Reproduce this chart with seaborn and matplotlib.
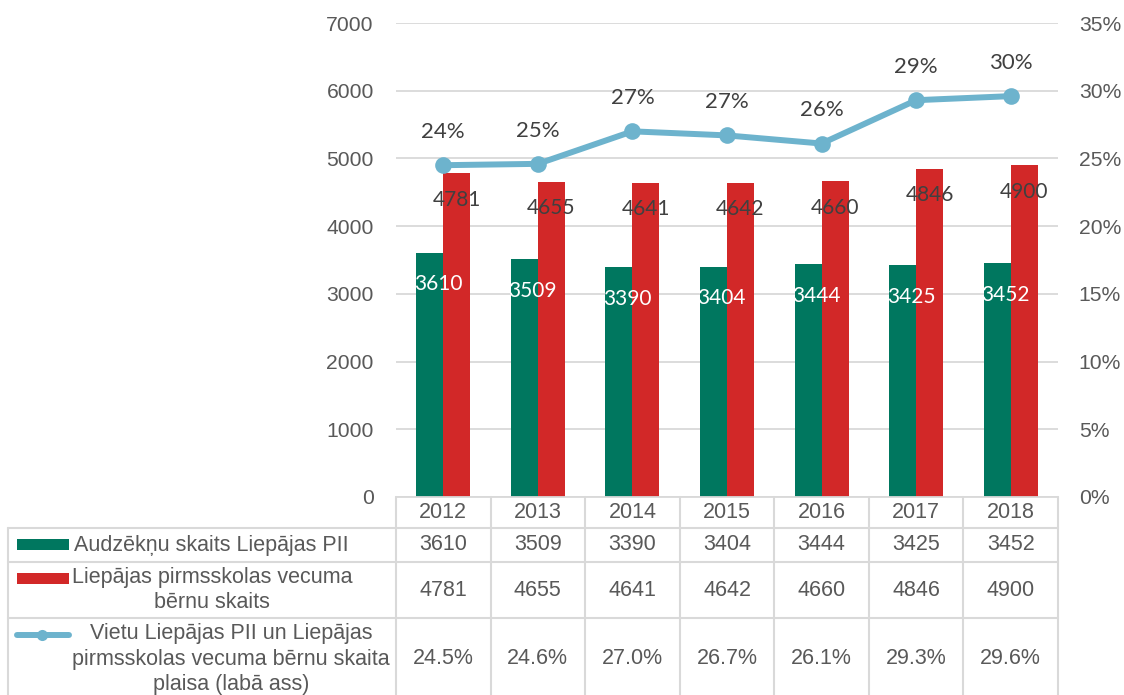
import numpy as np
import pandas as pd
import matplotlib.pyplot as plt
import seaborn as sns
from matplotlib.patches import Rectangle
from matplotlib.lines import Line2D

sns.set_theme(style="white")
plt.rcParams["font.family"] = ["Liberation Sans", "DejaVu Sans"]

# Data
years = ["2012", "2013", "2014", "2015", "2016", "2017", "2018"]
pupils = [3610, 3509, 3390, 3404, 3444, 3425, 3452]
children = [4781, 4655, 4641, 4642, 4660, 4846, 4900]
gap_pct = [24.5, 24.6, 27.0, 26.7, 26.1, 29.3, 29.6]

s1 = "Audzēkņu skaits Liepājas PII"
s2 = "Liepājas pirmsskolas vecuma\nbērnu skaits"
s3 = "Vietu Liepājas PII un Liepājas\npirmsskolas vecuma bērnu skaita\nplaisa (labā ass)"

green = "#00775F"
red = "#D22828"
blue = "#6DB3CD"
txt = "#595959"
grid = "#D9D9D9"

df = pd.DataFrame({
    "year": years * 2,
    "value": pupils + children,
    "series": [s1] * len(years) + [s2] * len(years),
})

W, H = 1124, 695
fig = plt.figure(figsize=(W / 100, H / 100), dpi=100)

# overlay for the data table (pixel coordinates)
tab = fig.add_axes([0, 0, 1, 1], zorder=0)
tab.set_xlim(0, W)
tab.set_ylim(H, 0)
tab.axis("off")

ax = fig.add_axes([396 / W, 1 - 497 / H, 662 / W, 474 / H], zorder=1)
ax.patch.set_alpha(0)
sns.barplot(data=df, x="year", y="value", hue="series", palette=[green, red],
            width=0.57, saturation=1, linewidth=0, ax=ax, legend=False)
ax.set_xlim(-0.5, len(years) - 0.5)
ax.set_ylim(0, 7000)
ax.set_yticks(range(0, 7001, 1000))
ax.yaxis.grid(True, color=grid, lw=1.3)
ax.set_axisbelow(True)
ax.set_xlabel("")
ax.set_ylabel("")
ax.set_xticks([])
for sp in ["top", "right", "left"]:
    ax.spines[sp].set_visible(False)
ax.spines["bottom"].set_color(grid)
ax.spines["bottom"].set_linewidth(1.3)
ax.tick_params(axis="y", labelsize=15.2, colors=txt, length=0, pad=16)

lab_font = ["Lato", "DejaVu Sans"]
bw = 0.285
for i in range(len(years)):
    ax.annotate(str(pupils[i]), (i - bw / 2, pupils[i]), xytext=(6, -23),
                textcoords="offset points", ha="center", va="center",
                fontsize=15, color="white", family=lab_font)
    ax.annotate(str(children[i]), (i + bw / 2, children[i]), xytext=(0, -19),
                textcoords="offset points", ha="center", va="center",
                fontsize=15, color="#404040", family=lab_font)

ax2 = ax.twinx()
sns.lineplot(x=np.arange(len(years)), y=gap_pct, ax=ax2, color=blue, lw=4.3,
             marker="o", markersize=12, markeredgewidth=0, zorder=5)
ax2.set_ylim(0, 35)
ax2.set_yticks(range(0, 36, 5))
ax2.set_yticklabels([f"{v}%" for v in range(0, 36, 5)])
ax2.tick_params(axis="y", labelsize=15.2, colors=txt, length=0, pad=15)
for sp in ax2.spines.values():
    sp.set_visible(False)
ax2.grid(False)
for i, v in enumerate(gap_pct):
    ax2.annotate(f"{v:.0f}%", (i, v), xytext=(0, 24), textcoords="offset points",
                 ha="center", va="center", fontsize=16, color="#404040",
                 family=lab_font)

# data table
fig.canvas.draw()
to_px = ax.transData + tab.transData.inverted()
edges = [to_px.transform((i - 0.5, 0))[0] for i in range(len(years) + 1)]
centers = [to_px.transform((i, 0))[0] for i in range(len(years))]
left = 8
rows = [497, 528, 562, 618, 700]
lc = dict(color=grid, lw=1.5, zorder=1)

for y in rows[1:4]:
    tab.plot([left, edges[-1]], [y, y], **lc)
tab.plot([left, left], [rows[1], H], **lc)
for x in edges:
    tab.plot([x, x], [rows[0], H], **lc)

fs = 15.5
for i in range(len(years)):
    tab.text(centers[i], (rows[0] + rows[1]) / 2, years[i], ha="center", va="center",
             fontsize=fs, color=txt)
    tab.text(centers[i], (rows[1] + rows[2]) / 2, str(pupils[i]), ha="center", va="center",
             fontsize=fs, color=txt)
    tab.text(centers[i], (rows[2] + rows[3]) / 2, str(children[i]), ha="center", va="center",
             fontsize=fs, color=txt)
    tab.text(centers[i], 659, f"{gap_pct[i]:.1f}%", ha="center", va="center",
             fontsize=fs, color=txt)

# legend keys + names
tab.add_patch(Rectangle((17, 539), 52, 11, color=green, lw=0))
tab.text(74, 545, s1, ha="left", va="center", fontsize=fs, color=txt)
tab.add_patch(Rectangle((17, 573), 52, 11, color=red, lw=0))
tab.text(212, 590, s2, ha="center", va="center", fontsize=fs, color=txt,
         multialignment="center", linespacing=1.3)
tab.add_line(Line2D([17, 69], [635, 635], color=blue, lw=4.3, solid_capstyle="round"))
tab.add_line(Line2D([42], [635], color=blue, marker="o", markersize=8, markeredgewidth=0))
tab.text(231, 659, s3, ha="center", va="center", fontsize=fs, color=txt,
         multialignment="center", linespacing=1.3)

plt.savefig("out.png", dpi=100)
